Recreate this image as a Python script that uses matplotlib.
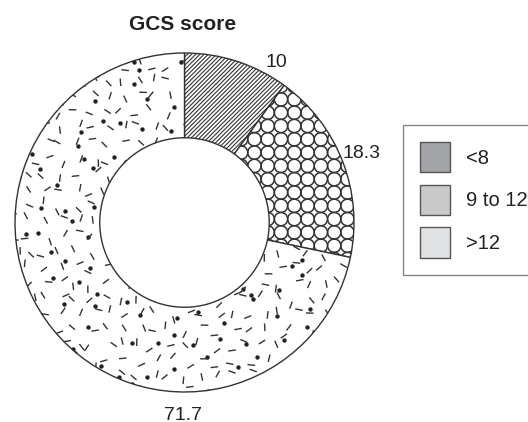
import numpy as np
import matplotlib
matplotlib.use("Agg")
import matplotlib.pyplot as plt
from matplotlib.patches import Patch, Circle
from matplotlib.collections import PatchCollection, LineCollection

plt.rcParams['font.family'] = ['Liberation Sans', 'DejaVu Sans']
plt.rcParams['hatch.linewidth'] = 0.8

# GCS score distribution (%)
categories = ['<8', '9 to 12', '>12']
values = [10, 18.3, 71.7]
legend_colors = ['#a3a4a7', '#c9c9ca', '#e1e2e3']

# label placement (angle in degrees, radius in pie units)
label_angles = [60.3, 21.9, -90.6]
label_radii = [1.097, 1.125, 1.124]

W, H = 528, 422
fig = plt.figure(figsize=(W / 100, H / 100), dpi=100)

cx, cy, R = 184.5, 222.5, 169.5
ax = fig.add_axes([(cx - R) / W, (H - cy - R) / H, 2 * R / W, 2 * R / H])

edge = '#333333'
wedges, _ = ax.pie(values, startangle=90, counterclock=False, radius=1.0,
                   colors=['white'] * 3,
                   wedgeprops=dict(width=0.5, edgecolor=edge, linewidth=1.0))
ax.set_xlim(-1, 1)
ax.set_ylim(-1, 1)
ax.set_aspect('equal')
ax.axis('off')

# first wedge: fine diagonal hatching
wedges[0].set_hatch('////////')

# second wedge: grid of touching circles
step = 13.3 / R
gx = np.arange(-1.0, 1.0 + step, step)
circles = [Circle((x, y), step / 2) for x in gx for y in gx]
pc = PatchCollection(circles, facecolor='none', edgecolor=edge, linewidth=1.1)
ax.add_collection(pc)
pc.set_clip_path(wedges[1])

# third wedge: scattered dashes and dots
rng = np.random.default_rng(7)
dstep = 15.5 / R
segs = []
for x in np.arange(-1.0, 1.0, dstep):
    for y in np.arange(-1.0, 1.0, dstep):
        px = x + rng.uniform(-0.4, 0.4) * dstep
        py = y + rng.uniform(-0.4, 0.4) * dstep
        ang = rng.uniform(0, np.pi)
        half = 3.8 / R
        segs.append([(px - half * np.cos(ang), py - half * np.sin(ang)),
                     (px + half * np.cos(ang), py + half * np.sin(ang))])
lc = LineCollection(segs, colors=edge, linewidths=1.0)
ax.add_collection(lc)
lc.set_clip_path(wedges[2])

pstep = 27.0 / R
pts = []
for x in np.arange(-1.0, 1.0, pstep):
    for y in np.arange(-1.0, 1.0, pstep):
        pts.append((x + rng.uniform(-0.45, 0.45) * pstep,
                    y + rng.uniform(-0.45, 0.45) * pstep))
pts = np.array(pts)
sc = ax.scatter(pts[:, 0], pts[:, 1], s=10, color='#222222', linewidths=0)
sc.set_clip_path(wedges[2])

# value labels
for v, a, r in zip(values, label_angles, label_radii):
    t = np.deg2rad(a)
    ax.text(r * np.cos(t), r * np.sin(t), f'{v:g}', ha='center',
            va='center_baseline', fontsize=14, color='#222222', clip_on=False)

fig.text(183 / W, 1 - 23 / H, 'GCS score', ha='center', va='center_baseline',
         fontsize=15, fontweight='bold', color='#222222')

handles = [Patch(facecolor=c, edgecolor='#555555', linewidth=1.0) for c in legend_colors]
leg = fig.legend(handles, categories, loc='upper left',
                 bbox_to_anchor=(402.5 / W, 1 - 125 / H),
                 fontsize=14.5, frameon=True, fancybox=False,
                 handlelength=1.5, handleheight=1.93, handletextpad=0.8,
                 labelspacing=0.62, borderpad=0.85, borderaxespad=0)
leg.get_frame().set_edgecolor('#666666')
leg.get_frame().set_linewidth(1.0)
for t in leg.get_texts():
    t.set_color('#222222')

fig.savefig('out.png', dpi=100)
